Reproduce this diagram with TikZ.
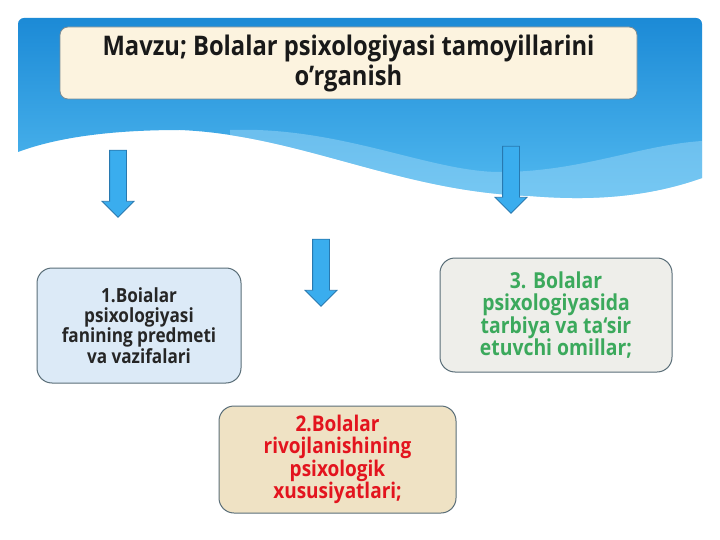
\documentclass[tikz,border=0pt]{standalone}
\usepackage{fontspec}
\setmainfont{Open Sans}[FakeStretch=0.88]
\usetikzlibrary{shapes.arrows}

\definecolor{skytop}{HTML}{1C8AD6}
\definecolor{skybot}{HTML}{52BAF0}
\definecolor{skylight}{HTML}{9AD6F6}
\definecolor{arrowfill}{HTML}{3AADEE}
\definecolor{arrowline}{HTML}{2879B0}
\definecolor{titlefill}{HTML}{FCF3DF}
\definecolor{bluefill}{HTML}{DCEAF7}
\definecolor{greyfill}{HTML}{EEEEEA}
\definecolor{sandfill}{HTML}{EFE2C4}
\definecolor{boxline}{HTML}{5A6E78}
\definecolor{topicred}{HTML}{E3141E}
\definecolor{topicgreen}{HTML}{3BA95C}

\tikzset{
  topicbox/.style={draw=boxline, line width=1pt, rounded corners=15pt, align=center,
    inner sep=0pt, text=black!85},
  downarrow/.style={single arrow, draw=arrowline, fill=arrowfill, line width=0.8pt,
    rotate=-90, inner xsep=0pt, inner ysep=8pt, minimum width=0pt,
    single arrow head extend=7.5pt, single arrow tip angle=90}
}

\begin{document}
\begin{tikzpicture}[x=1pt, y=-1pt]
            \useasboundingbox (0, 0) rectangle (720, 540);
            \fill [white] (0, 0) rectangle (720, 540);

            % sky banner with wave
            \path [top color=skytop, bottom color=skybot]
              (18, 152) [rounded corners=6pt] -- (18, 18) -- (702, 18) [sharp corners] -- (702, 178)
              .. controls (640, 200) and (580, 200) .. (530, 196)
              .. controls (400, 192) and (300, 135) .. (180, 130)
              .. controls (100, 130) and (50, 140) .. (18, 152) -- cycle;
            \begin{scope}
              \clip (702, 178)
                .. controls (640, 200) and (580, 200) .. (530, 196)
                .. controls (400, 192) and (300, 135) .. (180, 130)
                -- (180, 18) -- (702, 18) -- cycle;
              \fill [skylight, opacity=0.5] (230, 130)
                .. controls (340, 126) and (430, 172) .. (500, 172)
                .. controls (580, 172) and (640, 145) .. (702, 141)
                -- (702, 240) -- (230, 240) -- cycle;
            \end{scope}

            \node [draw=boxline!80, line width=0.8pt, fill=titlefill, rounded corners=8pt,
              minimum width=577pt, minimum height=72pt, inner sep=0pt, align=center,
              font=\bfseries\fontsize{27}{30}\selectfont, text=black!90]
              (title) at (348.5, 63) {Mavzu; Bolalar psixologiyasi tamoyillarini\\o’rganish};

            \node [downarrow, minimum height=67pt] (arrowA) at (118, 179.5) {};
            \node [downarrow, minimum height=67pt] (arrowC) at (511, 175.5) {};
            \node [downarrow, minimum height=67pt] (arrowB) at (321, 268.5) {};

            \node [topicbox, fill=bluefill, minimum width=204pt, minimum height=115pt,
              font=\bfseries\fontsize{19.5}{20.3}\selectfont]
              (topicA) at (139, 325.5) {1.Boialar\\psixologiyasi\\fanining predmeti\\va vazifalari};
            \node [topicbox, fill=greyfill, text=topicgreen, minimum width=232pt, minimum height=114pt,
              font=\bfseries\fontsize{22}{22.2}\selectfont]
              (topicC) at (556, 315) {3. Bolalar\\psixologiyasida\\tarbiya va ta‘sir\\etuvchi omillar;};
            \node [topicbox, fill=sandfill, text=topicred, minimum width=237pt, minimum height=107pt,
              font=\bfseries\fontsize{21.6}{22.4}\selectfont]
              (topicB) at (337.5, 459.5) {2.Bolalar\\rivojlanishining\\psixologik\\xususiyatlari;};
        \end{tikzpicture}
\end{document}
